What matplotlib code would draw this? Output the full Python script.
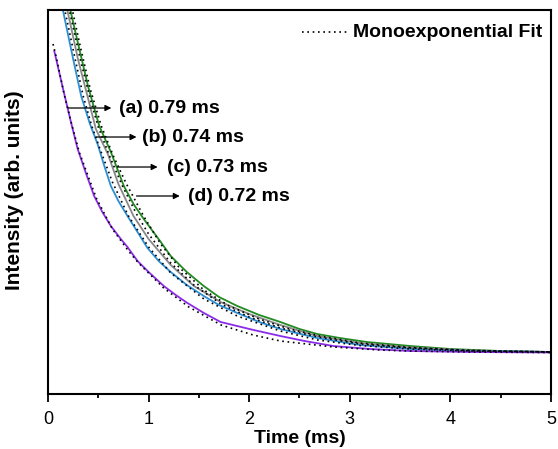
import matplotlib
matplotlib.use("Agg")
import matplotlib.pyplot as plt
from matplotlib.ticker import MultipleLocator

plt.rcParams['font.family'] = ['Liberation Sans', 'DejaVu Sans']

# decay curves (time in ms, intensity in arbitrary units)
t_a = [0.20, 0.22, 0.30, 0.40, 0.51, 0.625, 0.754, 0.85, 0.952, 1.121, 1.22, 1.38, 1.548, 1.70, 1.882,
       2.1, 2.31, 2.5, 2.676, 2.9, 3.17, 3.6, 4.0, 4.5, 5.0]
i_a = [392, 385, 350, 307, 268, 242, 208, 190, 175, 152, 138, 122, 108, 97, 88,
       79, 72, 65, 60, 56, 52, 48, 45, 43, 42]

t_b = [0.17, 0.19, 0.30, 0.40, 0.476, 0.595, 0.70, 0.85, 1.0, 1.22, 1.45, 1.716, 2.0, 2.31, 2.676,
       3.1, 3.6, 4.2, 5.0]
i_b = [392, 385, 334, 295, 265, 240, 210, 178, 155, 129, 108, 92, 80, 69, 58,
       51, 46.5, 43.5, 42]

t_c = [0.13, 0.146, 0.25, 0.33, 0.417, 0.493, 0.56, 0.625, 0.70, 0.79, 0.89, 0.989, 1.1, 1.22, 1.38,
       1.548, 1.7, 1.882, 2.1, 2.31, 2.676, 3.1, 3.6, 4.2, 5.0]
i_c = [392, 385, 335, 298, 270, 250, 228, 208, 193, 178, 162, 146, 133, 122, 109,
       98, 89, 81, 72, 65, 56, 49, 45, 43, 42]

t_d = [0.0625, 0.15, 0.228, 0.295, 0.38, 0.459, 0.54, 0.625, 0.724, 0.79, 0.89, 1.0, 1.151, 1.27, 1.386,
       1.55, 1.716, 1.88, 2.044, 2.31, 2.55, 2.837, 3.2, 3.6, 4.2, 5.0]
i_d = [343, 305, 272, 245, 220, 198, 182, 168, 155, 147, 133, 122, 108, 99, 91,
       81, 72, 68, 64, 58, 53, 48, 45, 43, 42, 41.5]

# monoexponential fits (dotted)
tf_a = [0.22, 0.24, 0.32, 0.42, 0.53, 0.65, 0.78, 0.95, 1.12, 1.3, 1.55, 1.8, 2.1, 2.4, 2.7, 3.1, 3.6, 4.2, 5.0]
if_a = [392, 385, 348, 305, 268, 238, 210, 178, 150, 127, 104, 88, 75, 65, 58, 51, 46.5, 43.5, 42]

tf_b = [0.19, 0.21, 0.32, 0.42, 0.50, 0.62, 0.74, 0.88, 1.0, 1.22, 1.45, 1.72, 2.0, 2.31, 2.68, 3.1, 3.6, 4.2, 5.0]
if_b = [392, 385, 335, 295, 267, 236, 208, 180, 160, 131, 109, 90, 77, 66, 57, 50, 46, 43.5, 42]

tf_c = [0.15, 0.165, 0.27, 0.35, 0.435, 0.51, 0.64, 0.80, 1.0, 1.22, 1.55, 1.88, 2.31, 2.68, 3.1, 3.6, 4.2, 5.0]
if_c = [392, 385, 335, 298, 268, 247, 212, 178, 147, 121, 95, 78, 63, 54, 48.5, 45, 43, 42]

tf_d = [0.05, 0.08, 0.16, 0.24, 0.31, 0.48, 0.64, 0.80, 0.90, 1.15, 1.4, 1.72, 2.04, 2.31, 2.84, 3.3, 3.6, 4.2, 5.0]
if_d = [350, 338, 300, 268, 242, 196, 165, 143, 131, 106, 87, 69, 59, 53, 47, 44, 43, 42, 41.5]

labels = ['(a) 0.79 ms', '(b) 0.74 ms', '(c) 0.73 ms', '(d) 0.72 ms']
label_y = [286, 257, 227, 198]
arrow_x0 = [0.20, 0.48, 0.69, 0.88]
arrow_x1 = [0.63, 0.88, 1.09, 1.31]
text_x = [0.71, 0.93, 1.18, 1.39]

fig = plt.figure(figsize=(5.58, 4.49), dpi=100)
ax = fig.add_axes([0.086, 0.1225, 0.9014, 0.8552])

ax.plot(t_a, i_a, color='#218a21', lw=1.3)
ax.plot(t_b, i_b, color='#888888', lw=1.3)
ax.plot(t_c, i_c, color='#2b8fd4', lw=1.3)
ax.plot(t_d, i_d, color='#8a2be8', lw=1.3)

for tf, yf in [(tf_a, if_a), (tf_b, if_b), (tf_c, if_c), (tf_d, if_d)]:
    ax.plot(tf, yf, color='black', lw=1.2, ls=(0, (1, 2.2)))

for lab, y, x0, x1, xt in zip(labels, label_y, arrow_x0, arrow_x1, text_x):
    ax.annotate('', xy=(x1, y), xytext=(x0, y),
                arrowprops=dict(arrowstyle='-|>', color='black', lw=0.9,
                                mutation_scale=9, shrinkA=0, shrinkB=0))
    ax.text(xt, y, lab, fontsize=14, fontweight='bold', va='center', ha='left')

# legend entry drawn by hand
ax.plot([2.53, 2.98], [362, 362], color='black', lw=1.2, ls=(0, (1, 2.2)))
ax.text(3.03, 362, 'Monoexponential Fit', fontsize=14, fontweight='bold', va='center', ha='left')

ax.set_xlim(0, 5)
ax.set_ylim(0, 384)
ax.xaxis.set_major_locator(MultipleLocator(1))
ax.xaxis.set_minor_locator(MultipleLocator(0.5))
ax.tick_params(axis='x', which='major', length=5.5, width=1.3, labelsize=13, pad=6.5)
ax.tick_params(axis='x', which='minor', length=3, width=1.3)
ax.set_yticks([])
for s in ax.spines.values():
    s.set_linewidth(1.5)

ax.set_xlabel('Time (ms)', fontsize=14, fontweight='bold', labelpad=2)
ax.set_ylabel('Intensity (arb. units)', fontsize=15, fontweight='bold')
ax.yaxis.set_label_coords(-0.047, 0.53)

fig.savefig('out.png', dpi=100)
